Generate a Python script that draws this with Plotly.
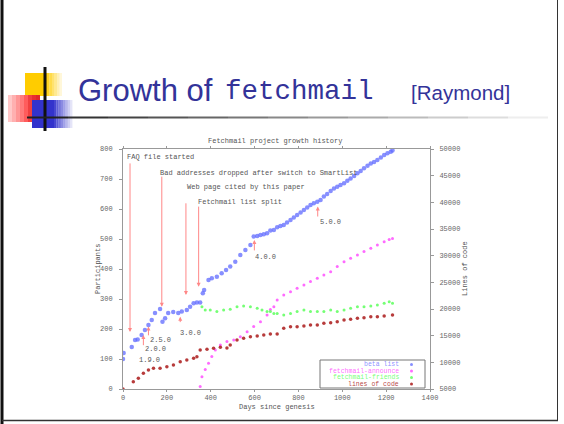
import plotly.graph_objects as go

# ---------------- data ----------------
beta_days = [0, 3, 40, 55, 67, 85, 100, 116, 131, 146, 169, 180, 192, 206, 229, 252, 268, 291, 306,
             322, 337, 352, 364, 370, 390, 405, 428, 450, 470, 489, 512, 535, 558, 581, 596, 612,
             627, 642, 657, 672, 688, 703, 718, 733, 748, 764, 779, 794, 810, 825, 840, 855, 870,
             886, 901, 916, 931, 947, 962, 977, 992, 1008, 1023, 1038, 1054, 1069, 1084, 1099,
             1115, 1130, 1145, 1160, 1176, 1191, 1206, 1221, 1229]
beta_list = [100, 120, 140, 163, 165, 180, 197, 213, 230, 253, 267, 224, 236, 253, 257, 253, 258, 263,
             274, 286, 288, 288, 319, 330, 363, 369, 374, 386, 397, 408, 424, 447, 463, 480, 508, 510,
             513, 516, 519, 528, 530, 539, 543, 547, 555, 563, 572, 580, 588, 597, 605, 613, 619,
             624, 630, 642, 650, 660, 668, 674, 680, 686, 694, 702, 710, 719, 727, 736,
             744, 752, 757, 763, 772, 780, 786, 791, 795]

announce_days = [352, 360, 375, 390, 405, 421, 444, 474, 505, 535, 566, 596, 627, 657, 672, 688, 703,
                 733, 764, 794, 825, 855, 886, 916, 947, 977, 1008, 1038, 1069, 1099, 1130, 1160,
                 1191, 1214, 1229]
announce = [8, 41, 65, 86, 108, 130, 147, 158, 163, 174, 191, 208, 224, 247, 265, 274, 297,
            313, 324, 336, 347, 358, 369, 380, 391, 408, 424, 436, 447, 458, 469, 480,
            491, 498, 502]

friends_days = [360, 375, 398, 428, 459, 489, 520, 550, 581, 612, 634, 657, 672, 688, 703, 733, 764,
                794, 825, 855, 886, 916, 947, 977, 1008, 1038, 1069, 1099, 1130, 1160, 1191, 1214, 1229]
friends = [274, 263, 263, 258, 263, 266, 274, 277, 274, 269, 263, 258, 258, 252, 252, 247, 252,
           258, 263, 258, 258, 258, 263, 258, 263, 269, 274, 274, 277, 280, 286, 291, 286]

loc_days = [0, 47, 70, 93, 116, 139, 169, 200, 230, 261, 291, 322, 337, 352, 383, 413, 444, 474, 489,
            520, 550, 581, 612, 642, 672, 703, 733, 764, 794, 825, 855, 886, 916, 947, 977, 1008,
            1038, 1069, 1099, 1130, 1160, 1191, 1229]
loc = [5000, 6370, 7000, 7940, 8560, 8880, 8880, 9190, 9500, 10120, 10440, 10750, 11060, 12310, 12440,
       12630, 12820, 12700, 13250, 14190, 14500, 14810, 14940, 15120, 15310, 15310, 16380, 16690,
       16690, 16810, 17000, 17000, 17310, 17440, 17620, 17940, 18060, 18250, 18380, 18560, 18560,
       18690, 18880]

x_ticks = [0, 200, 400, 600, 800, 1000, 1200, 1400]
y_ticks = [0, 100, 200, 300, 400, 500, 600, 700, 800]
y2_ticks = [5000, 10000, 15000, 20000, 25000, 30000, 35000, 40000, 45000, 50000]
y2_labels = ["5000", "10000", "15000", "20000", "25000", "30000", "35000", "40000", "45000", "50000"]

legend_names = ["beta list", "fetchmail-announce", "fetchmail-friends", "lines of code"]

event_labels = ["FAQ file started", "Bad addresses dropped after switch to SmartList",
                "Web page cited by this paper", "Fetchmail list split"]
event_days = [32, 177, 287, 345]
event_text_x = [9, 160, 284, 334]
event_text_y = [773, 720, 673, 623]
event_top = [757, 713, 624, 613]
event_bottom = [190, 274, 313, 341]

version_labels = ["1.9.0", "2.0.0", "2.5.0", "3.0.0", "4.0.0", "5.0.0"]
version_text_x = [64, 91, 114, 252, 591, 887]
version_text_y = [97, 133, 163, 187, 441, 557]
version_arrow_x = [93, 116, None, 261, 599, 888]
version_arrow_from = [141, 174, None, 218, 457, 570]
version_arrow_to = [180, 208, None, 241, 497, 608]

# ---------------- styling ----------------
W, H = 564, 424
def fx(p):
    return p / W
def fy(p):
    return 1 - p / H

BLUE = "rgba(95,105,255,0.75)"
MAG = "rgba(255,80,255,0.85)"
GREEN = "rgba(110,255,110,0.95)"
RED = "rgba(170,25,25,0.85)"
ARROW = "rgb(255,135,135)"
TXT = "#555"
MONO = "Liberation Mono"

fig = go.Figure()
fig.add_trace(go.Scatter(x=beta_days, y=beta_list, mode="markers", yaxis="y",
                         marker=dict(size=4.5, color=BLUE), showlegend=False))
fig.add_trace(go.Scatter(x=announce_days, y=announce, mode="markers", yaxis="y",
                         marker=dict(size=3, color=MAG), showlegend=False))
fig.add_trace(go.Scatter(x=friends_days, y=friends, mode="markers", yaxis="y",
                         marker=dict(size=3, color=GREEN), showlegend=False))
fig.add_trace(go.Scatter(x=loc_days, y=loc, mode="markers", yaxis="y2",
                         marker=dict(size=3.5, color=RED), showlegend=False))

shapes = []
annotations = []

def rect(x0, y0, x1, y1, color, op=1.0):
    shapes.append(dict(type="rect", xref="paper", yref="paper", x0=fx(x0), x1=fx(x1),
                       y0=fy(y1), y1=fy(y0), fillcolor=color, opacity=op, line=dict(width=0),
                       layer="above"))

def hline(x0, x1, y, color, w):
    shapes.append(dict(type="line", xref="paper", yref="paper", x0=fx(x0), x1=fx(x1),
                       y0=fy(y), y1=fy(y), line=dict(color=color, width=w)))

def vline(x, y0, y1, color, w):
    shapes.append(dict(type="line", xref="paper", yref="paper", x0=fx(x), x1=fx(x),
                       y0=fy(y0), y1=fy(y1), line=dict(color=color, width=w)))

rect(25, 73, 47, 96, "#ffcc00")
for i in range(6):
    rect(47 + i * 2.5, 73, 49.5 + i * 2.5, 96, "#ffcc00", 0.85 - i * 0.14)
reds = ["#ffc8c8", "#ffb0b0", "#ff9696", "#ff7a7a", "#ff5c5c", "#f04040", "#e83030", "#e02828"]
for i, c in enumerate(reds):
    rect(8 + i * 4, 95, 12 + i * 4, 122, c)
rect(32, 100, 54, 128, "#3333cc")
for i in range(8):
    rect(54 + i * 2.3, 100, 56.3 + i * 2.3, 128, "#3333cc", 0.9 - i * 0.11)
vline(45, 67, 131, "#111", 3)
hline(27, 68, 117.5, "#222", 2)
grays = ["#333", "#444", "#555", "#666", "#777", "#888", "#999", "#aaa", "#bbb", "#ccc", "#ddd", "#eee"]
for i, g in enumerate(grays):
    hline(68 + i * 40, 108 + i * 40, 117.5, g, 2)
vline(2, 0, 424, "#111", 3)
vline(557.5, 0, 421, "#333", 1)
hline(2, 558, 420.5, "#333", 1.5)

annotations.append(dict(text="Growth of", xref="paper", yref="paper", x=fx(76), y=fy(90),
                        xanchor="left", yanchor="middle", showarrow=False,
                        font=dict(family="Liberation Sans", size=31, color="#333399")))
annotations.append(dict(text="fetchmail", xref="paper", yref="paper", x=fx(223), y=fy(91),
                        xanchor="left", yanchor="middle", showarrow=False,
                        font=dict(family=MONO, size=27.5, color="#333399")))
annotations.append(dict(text="[Raymond]", xref="paper", yref="paper", x=fx(409), y=fy(92),
                        xanchor="left", yanchor="middle", showarrow=False,
                        font=dict(family="Liberation Sans", size=20.5, color="#333399")))

small = dict(family=MONO, size=7, color=TXT)
annotations.append(dict(text="Fetchmail project growth history", xref="paper", yref="paper",
                        x=fx(275), y=fy(136), showarrow=False, font=small, borderpad=0))
annotations.append(dict(text="Days since genesis", xref="paper", yref="paper",
                        x=fx(277), y=fy(412), showarrow=False, font=small, borderpad=0))
annotations.append(dict(text="Participants", xref="paper", yref="paper", textangle=-90,
                        x=fx(93), y=fy(269), showarrow=False, font=small, borderpad=0))
annotations.append(dict(text="Lines of code", xref="paper", yref="paper", textangle=-90,
                        x=fx(470), y=fy(269), showarrow=False, font=small, borderpad=0))

for lab, d, tx, ty, top, bot in zip(event_labels, event_days, event_text_x, event_text_y,
                                     event_top, event_bottom):
    annotations.append(dict(text=lab, x=tx, y=ty, xref="x", yref="y", xanchor="left",
                            yanchor="middle", showarrow=False, font=small))
    annotations.append(dict(text="", x=d, y=bot, ax=d, ay=top, xref="x", yref="y",
                            axref="x", ayref="y", showarrow=True, arrowhead=2, arrowsize=0.8,
                            arrowwidth=1, arrowcolor=ARROW))

for lab, tx, ty, axx, af, at in zip(version_labels, version_text_x, version_text_y,
                                    version_arrow_x, version_arrow_from, version_arrow_to):
    annotations.append(dict(text=lab, x=tx, y=ty, xref="x", yref="y", xanchor="left",
                            yanchor="middle", showarrow=False, font=small))
    if axx is not None:
        annotations.append(dict(text="", x=axx, y=at, ax=axx, ay=af, xref="x", yref="y",
                                axref="x", ayref="y", showarrow=True, arrowhead=2,
                                arrowsize=0.8, arrowwidth=1, arrowcolor=ARROW))

shapes.append(dict(type="rect", xref="paper", yref="paper", x0=fx(320), x1=fx(425),
                   y0=fy(388), y1=fy(360), line=dict(color="#777", width=1),
                   fillcolor="rgba(255,255,255,0)"))
leg_colors = [BLUE, MAG, GREEN, RED]
leg_y = [364.5, 371, 377.5, 384]
for name, c, yy in zip(legend_names, leg_colors, leg_y):
    annotations.append(dict(text=name, xref="paper", yref="paper", x=fx(401), y=fy(yy),
                            xanchor="right", yanchor="middle", showarrow=False,
                            font=dict(family=MONO, size=6.5, color=c)))
    shapes.append(dict(type="circle", xref="paper", yref="paper", x0=fx(410), x1=fx(413),
                       y0=fy(yy + 1.5), y1=fy(yy - 1.5), fillcolor=c, line=dict(width=0)))

axis_common = dict(showline=True, linecolor="#999", linewidth=1, ticks="outside",
                   tickcolor="#999", showgrid=False, zeroline=False, automargin=False,
                   tickfont=dict(family=MONO, size=7, color="#666"))

fig.update_layout(
    width=W, height=H, autosize=False,
    margin=dict(l=0, r=0, t=0, b=0, pad=0, autoexpand=False),
    paper_bgcolor="white", plot_bgcolor="white", showlegend=False,
    xaxis=dict(domain=[fx(123), fx(430)], range=[0, 1400], tickvals=x_ticks, ticklen=2,
               mirror="ticks", anchor="y", ticklabelstandoff=0, **axis_common),
    yaxis=dict(domain=[fy(389), fy(149)], range=[0, 800], tickvals=y_ticks, anchor="x",
               ticklen=3, ticklabelstandoff=5, **axis_common),
    yaxis2=dict(overlaying="y", side="right", range=[5000, 50000], tickvals=y2_ticks,
                ticktext=y2_labels, anchor="x", ticklen=3, ticklabelstandoff=4, **axis_common),
    shapes=shapes, annotations=annotations,
)

fig.write_html("out.html", config={"displayModeBar": False, "responsive": False},
               post_script="document.body.style.margin='0';document.body.style.overflow='hidden';")
